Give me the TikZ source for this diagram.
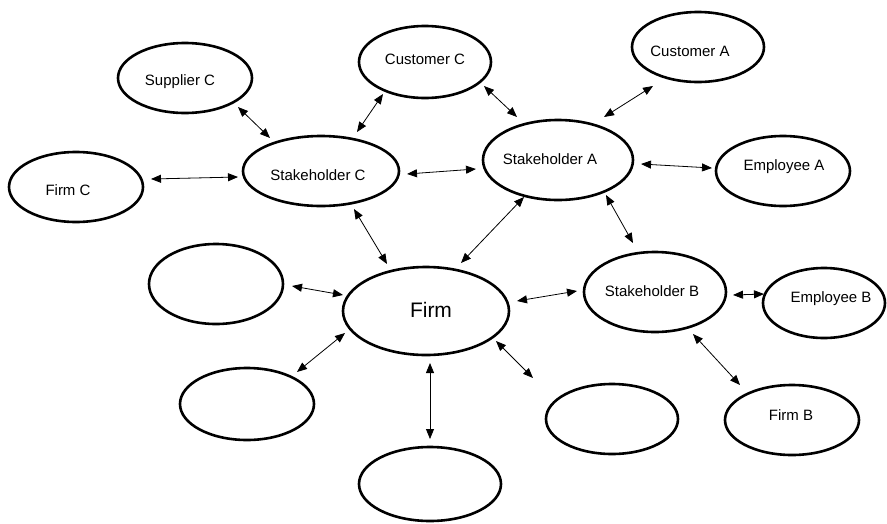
\documentclass[tikz,border=0pt]{standalone}
\usepackage{fontspec}
\setmainfont{Liberation Sans}
\usetikzlibrary{arrows.meta,shapes.geometric}
\tikzset{
  ell/.style 2 args={draw, line width=2.6pt, ellipse, inner sep=0pt,
     minimum width=#1, minimum height=#2},
  lbl/.style={font=\fontsize{15}{18}\selectfont},
  conn/.style={line width=0.8pt, {Triangle[length=10pt,width=8pt]}-{Triangle[length=10pt,width=8pt]}}
}
\begin{document}
\begin{tikzpicture}[x=1pt,y=-1pt]
\useasboundingbox (0,0) rectangle (887,523);
% ellipses
\node[ell={134pt}{70pt}] (eSupC) at (185,78) {};
\node[ell={134pt}{70pt}] (eFirmC) at (76,187) {};
\node[ell={156pt}{70pt}] (eStC) at (321,171) {};
\node[ell={132pt}{72pt}] (eCustC) at (425,62) {};
\node[ell={132pt}{70pt}] (eCustA) at (698,47) {};
\node[ell={150pt}{80pt}] (eStA) at (558,160) {};
\node[ell={134pt}{70pt}] (eEmpA) at (783,171) {};
\node[ell={134pt}{80pt}] (eBlank1) at (216,284) {};
\node[ell={166pt}{88pt}] (eFirm) at (426,311) {};
\node[ell={134pt}{72pt}] (eBlank2) at (247,404) {};
\node[ell={142pt}{74pt}] (eBlank3) at (430,484) {};
\node[ell={142pt}{80pt}] (eStB) at (655,292) {};
\node[ell={122pt}{70pt}] (eEmpB) at (824,303) {};
\node[ell={132pt}{70pt}] (eBlank4) at (612,419) {};
\node[ell={134pt}{70pt}] (eFirmB) at (792,420) {};
% labels
\node[lbl] (supC) at (180,82) {Supplier C};
\node[lbl] (firmC) at (68,190) {Firm C};
\node[lbl] (stC) at (318,175) {Stakeholder C};
\node[lbl] (custC) at (425,59) {Customer C};
\node[lbl] (custA) at (690,51) {Customer A};
\node[lbl] (stA) at (550,159) {Stakeholder A};
\node[lbl] (empA) at (784,167) {Employee A};
\node[font=\fontsize{21}{25}\selectfont] (firm) at (431,310) {Firm};
\node[lbl] (stB) at (652,291) {Stakeholder B};
\node[lbl] (empB) at (831,299) {Employee B};
\node[lbl] (firmB) at (791,415) {Firm B};
% arrow end points
\coordinate (a1) at (238,107); \coordinate (a2) at (270,138);
\coordinate (b1) at (383,94);  \coordinate (b2) at (357,132);
\coordinate (c1) at (151,179); \coordinate (c2) at (238,177);
\coordinate (d1) at (407,174); \coordinate (d2) at (476,169);
\coordinate (e1) at (354,209); \coordinate (e2) at (387,264);
\coordinate (f1) at (484,86);  \coordinate (f2) at (517,117);
\coordinate (g1) at (653,86);  \coordinate (g2) at (604,117);
\coordinate (h1) at (641,164); \coordinate (h2) at (712,168);
\coordinate (i1) at (524,197); \coordinate (i2) at (461,263);
\coordinate (j1) at (606,195); \coordinate (j2) at (633,243);
\coordinate (k1) at (292,286); \coordinate (k2) at (343,295);
\coordinate (l1) at (297,372); \coordinate (l2) at (345,333);
\coordinate (m1) at (430,363); \coordinate (m2) at (430,439);
\coordinate (n1) at (496,341); \coordinate (n2) at (533,378);
\coordinate (o1) at (517,301); \coordinate (o2) at (577,291);
\coordinate (p1) at (733,295); \coordinate (p2) at (764,294);
\coordinate (q1) at (693,334); \coordinate (q2) at (740,385);
\foreach \s in {a,b,c,d,e,f,g,h,i,j,k,l,m,n,o,p,q}
  \draw[conn] (\s1) -- (\s2);
\end{tikzpicture}
\end{document}
